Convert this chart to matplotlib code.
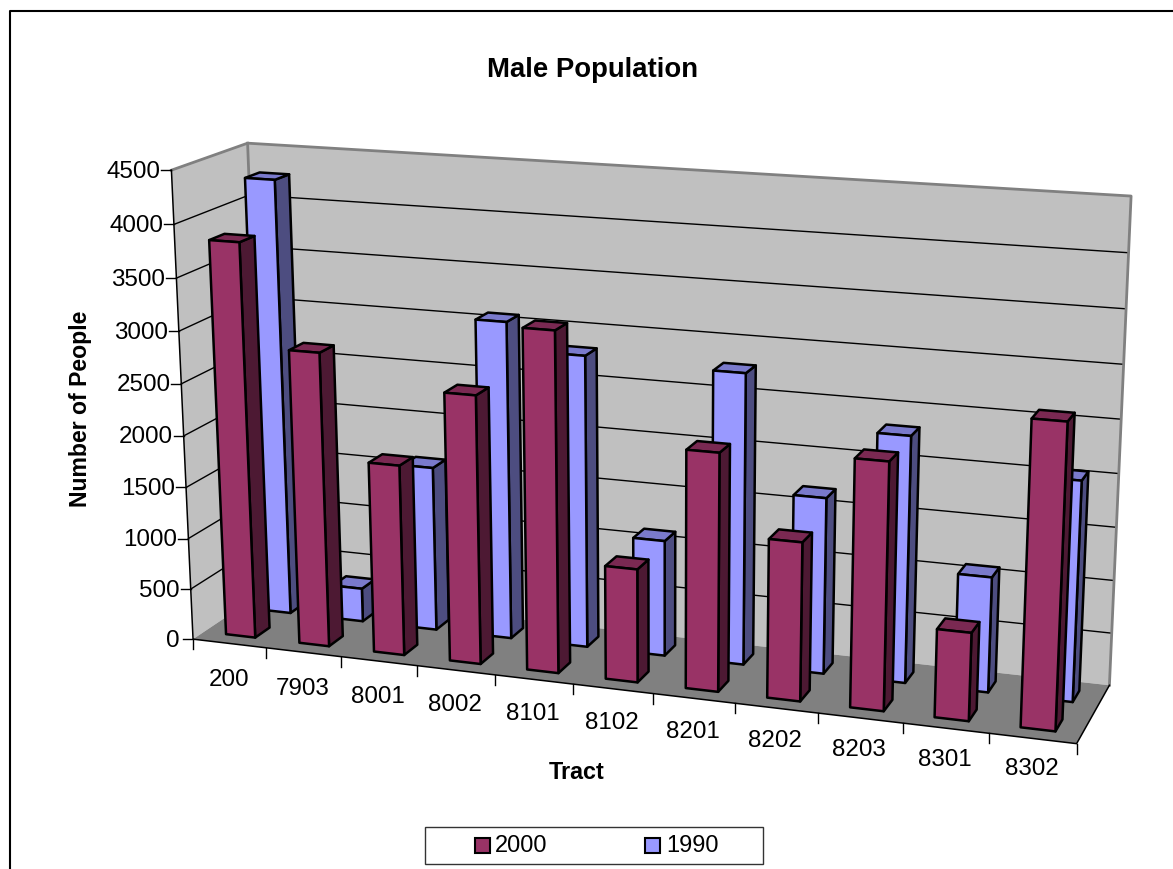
import matplotlib
matplotlib.use('Agg')
import numpy as np
import matplotlib.pyplot as plt
from matplotlib.patches import Polygon, Rectangle

plt.rcParams['font.family'] = ['Liberation Sans', 'DejaVu Sans']

tracts = ["200", "7903", "8001", "8002", "8101", "8102", "8201", "8202", "8203", "8301", "8302"]
male_2000 = [3825, 2845, 1840, 2570, 3230, 1080, 2240, 1490, 2300, 820, 2790]
male_1990 = [4270, 330, 1610, 3080, 2820, 1120, 2780, 1680, 2330, 1090, 2060]
value_ticks = list(range(0, 5000, 500))
zmax = 4500.0

# plot box corners (category, depth, value fraction) -> screen pixels
box_world = [(0, 0, 0), (1, 0, 0), (1, 1, 0), (0, 1, 0),
             (0, 0, 1), (1, 0, 1), (1, 1, 1), (0, 1, 1)]
box_screen = [(192, 640), (1077, 742), (1109, 687), (266, 590),
              (172, 170), (1098, 230), (1131, 195), (247, 143.5)]


def fit_camera(world, screen):
    rows = []
    for (a, b, c), (x, y) in zip(world, screen):
        rows.append([a, b, c, 1, 0, 0, 0, 0, -x * a, -x * b, -x * c, -x])
        rows.append([0, 0, 0, 0, a, b, c, 1, -y * a, -y * b, -y * c, -y])
    return np.linalg.svd(np.array(rows, dtype=float))[2][-1].reshape(3, 4)


camera = fit_camera(box_world, box_screen)


def project(cat, depth, value):
    p = camera @ np.array([cat / len(tracts), depth, value / zmax, 1.0])
    return p[0] / p[2], p[1] / p[2]


def draw_bar(ax, cat, depth0, depth1, value, colors):
    u0, u1 = cat + 0.3, cat + 0.7
    front = [project(u0, depth0, 0), project(u1, depth0, 0), project(u1, depth0, value), project(u0, depth0, value)]
    side = [project(u1, depth0, 0), project(u1, depth1, 0), project(u1, depth1, value), project(u1, depth0, value)]
    top = [project(u0, depth0, value), project(u1, depth0, value), project(u1, depth1, value), project(u0, depth1, value)]
    for pts, col in zip((side, top, front), colors):
        # zorder keeps the bars above the wall lines
        ax.add_patch(Polygon(pts, closed=True, facecolor=col, edgecolor='black', linewidth=1.8,
                             joinstyle='round', zorder=3))


fig = plt.figure(figsize=(11.73, 8.69), dpi=100)
ax = fig.add_axes([0, 0, 1, 1])
ax.set_xlim(0, 1173)
ax.set_ylim(869, 0)
ax.axis('off')

# chart area border
ax.plot([9.5, 9.5, 1173], [869, 11, 11], color='black', lw=1.5)

n = len(tracts)
# walls and floor
ax.add_patch(Polygon([project(0, 0, 0), project(0, 1, 0), project(0, 1, zmax), project(0, 0, zmax)],
                     facecolor='#c0c0c0', edgecolor='none'))
ax.add_patch(Polygon([project(0, 1, 0), project(n, 1, 0), project(n, 1, zmax), project(0, 1, zmax)],
                     facecolor='#c0c0c0', edgecolor='none'))
ax.add_patch(Polygon([project(0, 0, 0), project(n, 0, 0), project(n, 1, 0), project(0, 1, 0)],
                     facecolor='#808080', edgecolor='none'))

# gridlines over both walls
for v in value_ticks[1:-1]:
    xs, ys = zip(project(0, 0, v), project(0, 1, v), project(n, 1, v))
    ax.plot(xs, ys, color='black', lw=1.0)

# grey wall outline
xs, ys = zip(project(0, 0, zmax), project(0, 1, zmax), project(n, 1, zmax), project(n, 1, 0))
ax.plot(xs, ys, color='#808080', lw=2.0)
xs, ys = zip(project(0, 1, zmax), project(0, 1, 0))
ax.plot(xs, ys, color='#808080', lw=2.0)

# axis lines
xs, ys = zip(project(0, 0, zmax), project(0, 0, 0), project(n, 0, 0), project(n, 1, 0))
ax.plot(xs, ys, color='black', lw=1.1)

for v in value_ticks:
    x, y = project(0, 0, v)
    ax.plot([x - 10, x], [y, y], color='black', lw=1.0)
    ax.text(x - 11 if v else x - 14, y + 1.5, str(v), ha='right', va='center', fontsize=17.4)

for i in range(n + 1):
    x, y = project(i, 0, 0)
    ax.plot([x, x], [y, y + 10], color='black', lw=1.0)

for i, name in enumerate(tracts):
    x, y = project(i + 0.5, 0, 0)
    ax.text(x - 1, y + 37 - 0.6 * i, name, ha='center', va='center', fontsize=17.4)

# rear series first, then the front row
red_faces = ('#4d1933', '#7a2952', '#993366')
blue_faces = ('#4d4d80', '#7a7acc', '#9999ff')
for i, val in enumerate(male_1990):
    draw_bar(ax, i, 0.65, 0.85, val, blue_faces)
for i, val in enumerate(male_2000):
    draw_bar(ax, i, 0.15, 0.35, val, red_faces)

ax.text(592.5, 70, "Male Population", ha='center', va='center', fontsize=19.8, fontweight='bold')
ax.text(80, 409, "Number of People", ha='center', va='center', rotation=90, fontsize=16.6, fontweight='bold')
ax.text(577, 772.5, "Tract", ha='center', va='center', fontsize=16.8, fontweight='bold')

# legend
ax.add_patch(Rectangle((424.5, 826.5), 338.5, 37, facecolor='white', edgecolor='#333333', lw=1.0))
ax.add_patch(Rectangle((475, 838), 14.5, 14.5, facecolor='#993366', edgecolor='black', lw=1.5))
ax.add_patch(Rectangle((645, 838), 14.5, 14.5, facecolor='#9999ff', edgecolor='black', lw=1.5))
ax.text(495, 846, "2000", ha='left', va='center', fontsize=17)
ax.text(666, 846, "1990", ha='left', va='center', fontsize=17)

fig.savefig('out.png', dpi=100)
plt.close(fig)
